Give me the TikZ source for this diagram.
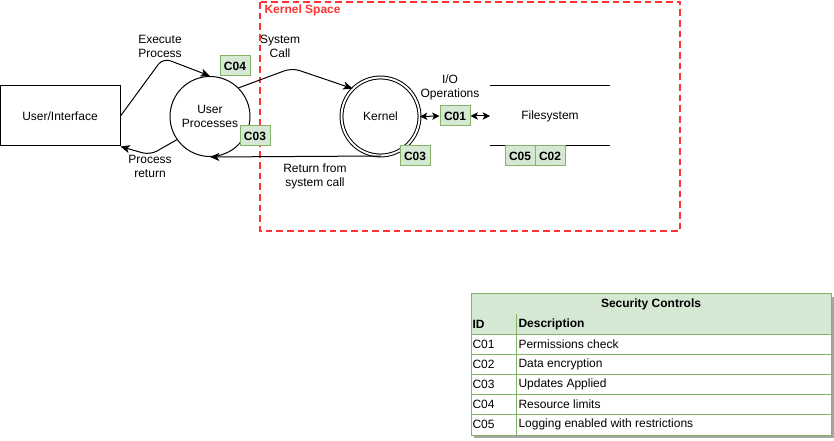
\documentclass[tikz,border=0pt]{standalone}
\usepackage{fontspec}
\setmainfont{Liberation Sans}
\usetikzlibrary{arrows.meta}
\definecolor{ctrlfill}{HTML}{D5E8D4}
\definecolor{ctrlline}{HTML}{82B366}
\definecolor{kspace}{HTML}{FF3333}
\begin{document}
\begin{tikzpicture}[x=0.75pt,y=-0.75pt, line width=0.75pt,
  font=\fontsize{9}{10.5}\selectfont,
  proc/.style={draw, circle, minimum size=60pt, inner sep=0pt, align=center},
  ctrl/.style={draw=ctrlline, fill=ctrlfill, minimum width=22.5pt, minimum height=15pt, inner sep=0pt, font=\fontsize{9}{10.5}\selectfont\bfseries},
  flow/.style={-{Stealth[length=7pt,width=6pt,inset=1.8pt]}, rounded corners=6pt},
  both/.style={{Stealth[length=5.5pt,width=5.5pt,inset=1.4pt]}-{Stealth[length=5.5pt,width=5.5pt,inset=1.4pt]}},
  lbl/.style={align=center, inner sep=0pt},
  cell/.style={anchor=west, inner sep=0pt}]
\useasboundingbox (0,0) rectangle (834,441);
% kernel space boundary
\draw[kspace, line width=1.5pt, dash pattern=on 5pt off 3pt] (260,2) rectangle (680,231);
\node[cell, text=kspace, font=\fontsize{9}{10.5}\selectfont\bfseries] (kslabel) at (264,10) {Kernel Space};
% entities
\node[draw, minimum width=90pt, minimum height=45pt] (ui) at (60,116) {User/Interface};
\node[proc] (up) at (210,116.5) {User\\Processes};
\node[proc, double, double distance=1.4pt, minimum size=58.5pt] (kernel) at (380.5,116.5) {Kernel};
\draw (490,86) -- (610,86);
\draw (490,146) -- (610,146);
\node (fs) at (550,116) {Filesystem};
\coordinate (fsin) at (490,116);
% flows
\coordinate (execbend) at (163,58);
\coordinate (retbend) at (150,155);
\coordinate (callbend) at (292,68);
\draw[flow] (ui.east) -- (execbend) -- (up.north);
\draw[flow] (up.215) -- (retbend) -- (ui.south east);
\draw[flow] (up.45) -- (callbend) -- (kernel.135);
\draw[flow] (kernel.south) -- (up.south);
\node[lbl] (execlbl) at (160,46) {Execute\\Process};
\node[lbl] (retlbl) at (150,166.5) {Process\\return};
\node[lbl] (calllbl) at (280,46.5) {System\\Call};
\node[lbl] (sysretlbl) at (315,176.5) {Return from\\system call};
\node[lbl] (iolbl) at (450,87) {I/O\\Operations};
% controls
\node[ctrl] (c04) at (235,66) {C04};
\node[ctrl] (c03a) at (255,136) {C03};
\node[ctrl] (c03b) at (415,156) {C03};
\node[ctrl] (c01) at (455,116) {C01};
\node[ctrl] (c05) at (520,156) {C05};
\node[ctrl] (c02) at (550,156) {C02};
\draw[both] (kernel.east) -- (c01.west);
\draw[both] (c01.east) -- (fsin);
% security controls table
\fill[black!35] (474,297) rectangle (834,438);
\fill[white] (471,294) rectangle (831,435);
\fill[ctrlfill] (471,294) rectangle (831,334);
\node[font=\fontsize{9}{10.5}\selectfont\bfseries] (tabtitle) at (651,304.5) {Security Controls};
\node[cell, font=\fontsize{9}{10.5}\selectfont\bfseries] (idhead) at (472,324.5) {ID};
\node[cell, font=\fontsize{9}{10.5}\selectfont\bfseries] (deschead) at (518,324.5) {Description};
\foreach \cid/\cdesc [count=\i] in {C01/Permissions check, C02/Data encryption, C03/Updates Applied, C04/Resource limits, C05/Logging enabled with restrictions} {
  \node[cell] (id\i) at (472,{324.5+20*\i}) {\cid};
  \node[cell] (desc\i) at (518,{324.5+20*\i}) {\cdesc};
  \draw[ctrlline] (471,{314+20*\i}) -- (831,{314+20*\i});
}
\draw[ctrlline] (516,314) -- (516,435);
\draw[ctrlline] (471,294) rectangle (831,435);
\end{tikzpicture}
\end{document}
